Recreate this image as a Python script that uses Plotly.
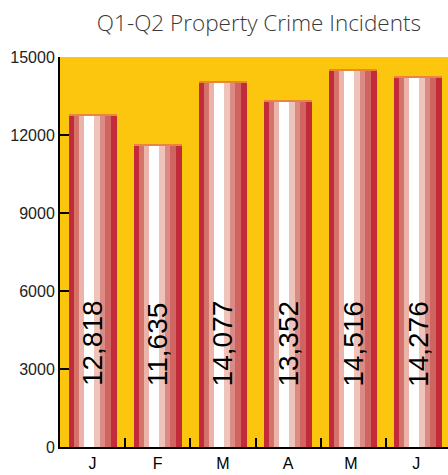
import plotly.graph_objects as go

months = ["J", "F", "M", "A", "M ", "J "]
incidents = [12818, 11635, 14077, 13352, 14516, 14276]
y_ticks = [0, 3000, 6000, 9000, 12000, 15000]
title_text = "Q1-Q2 Property Crime Incidents"

# stripe layout (pixel boundaries within a 48px bar, category = 65.2px)
cat_px = 65.2
bar_px = 48.0
stripe_edges = [0, 5, 10, 15, 25, 31, 36, 42, 48]
stripe_colors = ["#C32B3B", "#D5726A", "#EBB4AA", "#FFFFFF",
                 "#EDC3BA", "#DC8A84", "#D06461", "#C32B3B"]

fig = go.Figure()
for i, col in enumerate(stripe_colors):
    a, b = stripe_edges[i], stripe_edges[i + 1]
    fig.add_trace(go.Bar(
        x=months, y=incidents,
        width=(b - a) / cat_px,
        offset=(a - bar_px / 2) / cat_px,
        marker=dict(color=col, line=dict(width=0)),
        hoverinfo="skip", showlegend=False,
    ))

# thin orange top edge
edge = 50
fig.add_trace(go.Bar(
    x=months, y=[edge] * len(incidents),
    base=[v - edge for v in incidents],
    width=bar_px / cat_px, offset=-bar_px / 2 / cat_px,
    marker=dict(color="#E8873C", line=dict(width=0)),
    hoverinfo="skip", showlegend=False,
))

for m, v in zip(months, incidents):
    fig.add_annotation(
        x=m, y=2250, text=f"{v:,}", textangle=-90,
        showarrow=False, xanchor="center", yanchor="bottom",
        font=dict(family="Liberation Sans, Arial", size=28, color="#000000"),
    )

fig.update_layout(
    width=448, height=475,
    margin=dict(l=60, r=0, t=57, b=28, autoexpand=False),
    paper_bgcolor="#FFFFFF",
    plot_bgcolor="#FCC50E",
    barmode="overlay",
    bargap=0,
    title=dict(
        text=title_text, x=0.578, xref="container", xanchor="center",
        y=1 - 23 / 475, yref="container", yanchor="middle",
        font=dict(family="Open Sans", size=22.5, color="#3A3A3A", weight=300),
    ),
    xaxis=dict(
        type="category",
        range=[-0.5, 5.5 - 3 / cat_px],
        tickson="boundaries",
        ticks="inside", ticklen=9, tickwidth=2, tickcolor="#000000",
        showline=True, linecolor="#000000", linewidth=2,
        showgrid=False, zeroline=False, automargin=False,
        ticklabelstandoff=1,
        tickfont=dict(family="Liberation Sans, Arial", size=16, color="#000000"),
    ),
    yaxis=dict(
        range=[0, 15000],
        tickvals=y_ticks,
        ticktext=[str(t) for t in y_ticks],
        ticks="inside", ticklen=9, tickwidth=2, tickcolor="#000000",
        showline=True, linecolor="#000000", linewidth=2,
        showgrid=False, zeroline=False, automargin=False,
        tickfont=dict(family="Liberation Sans, Arial", size=16, color="#222222"),
    ),
)

fig.write_html(
    "out.html",
    config={"displayModeBar": False},
    post_script="document.body.style.margin='0';document.body.style.overflow='hidden';",
)
